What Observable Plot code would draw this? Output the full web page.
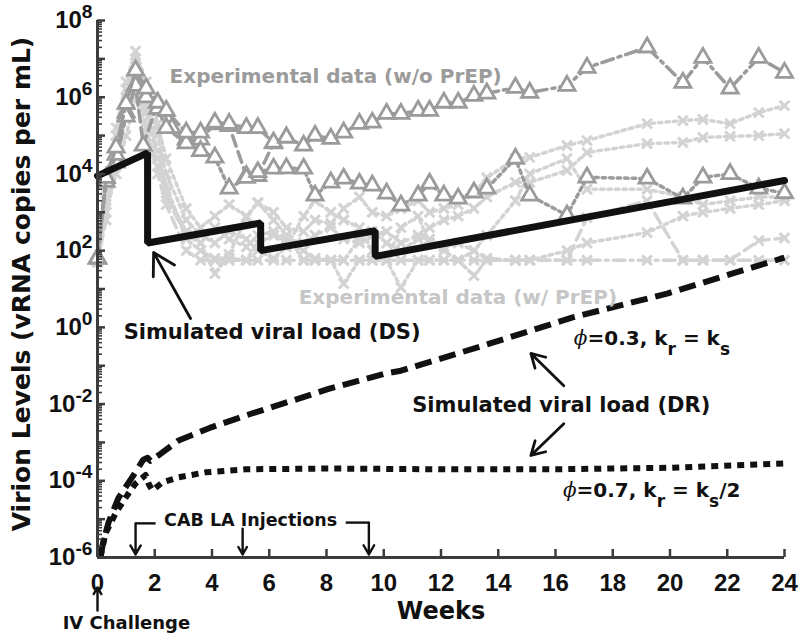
<!DOCTYPE html>
<html>
<head>
<meta charset="utf-8">
<script src="https://cdn.jsdelivr.net/npm/d3@7"></script>
<script src="https://cdn.jsdelivr.net/npm/@observablehq/plot@0.6"></script>
<style>
  html, body { margin: 0; padding: 0; background: #fff; }
  svg { display: block; }
</style>
</head>
<body>
<div id="chart"></div>
<script>
// ---------- data (exponents are log10 copies/mL) ----------
const sampleWeeks = [0, 0.3, 0.65, 1.0, 1.33, 1.7, 2.1, 2.4, 3.1, 3.6, 4.1, 4.6, 5.2, 5.6, 6.15, 6.6, 7.2, 7.6, 8.15, 8.6,
  9.15, 9.6, 10.1, 10.6, 11.2, 11.6, 12.1, 12.6, 13.15, 13.6, 14.6, 15.1, 16.4, 17.1, 19.2, 20.45, 21.15, 22.1, 23.1, 24];

// experimental data without PrEP (triangles)
const noPrep1 = [1.8, 3.9, 4.69, 5.83, 6.7, 6.23, 5.86, 5.65, 5.08, 5.08, 5.34, 5.31, 5.2, 5.2, 4.82, 4.95, 4.74, 5.0, 4.92, 5.08,
  5.31, 5.34, 5.57, 5.57, 5.65, 5.65, 5.86, 5.86, 6.04, 6.1, 6.25, 6.12, 6.3, 6.77, 7.3, 6.38, 7.03, 6.23, 7.03, 6.64];
const noPrep2 = [1.8, 3.8, 4.5, 5.5, 6.3, 6.0, 5.7, 5.2, 4.8, 4.6, 4.43, 3.62, 3.9, 4.05, 4.14, 4.15, 4.14, 3.44, 3.78, 3.88,
  3.75, 3.7, 3.49, 3.18, 3.44, 3.75, 3.44, 3.36, 3.52, 3.62, 4.4, 3.44, 2.92, 3.91, 3.88, 3.36, 3.91, 4.0, 3.62, 3.5];
const noPrep3Weeks = [0, 0.3, 0.65, 1.0, 1.33, 1.6, 2.1, 2.6, 3.1, 3.6, 4.1, 4.6, 5.2, 5.6, 6.15, 6.6];
const noPrep3 = [1.8, 3.9, 4.3, 5.6, 6.3, 4.74, 5.85, 5.2, 4.9, 4.9, 5.3, 5.25, 3.95, 3.95, 4.8, 4.95];

// experimental data with PrEP (crosses)
const prep1 = [1.7, 3.6, 5.2, 6.4, 7.2, 6.4, 5.3, 4.4, 3.1, 2.6, 2.9, 3.2, 2.9, 3.25, 3.0, 2.6, 2.5, 2.8, 2.7, 3.1,
  3.4, 3.0, 2.9, 3.1, 3.3, 3.0, 3.1, 3.2, 3.5, 3.9, 4.4, 4.43, 4.74, 4.87, 5.31, 5.39, 5.42, 5.31, 5.6, 5.78];
const prep2 = [1.7, 3.2, 4.8, 6.0, 7.0, 5.8, 4.6, 3.7, 2.3, 2.0, 1.8, 1.8, 1.75, 2.2, 2.4, 2.2, 2.0, 1.8, 1.75, 1.75,
  2.3, 2.5, 2.2, 2.0, 2.3, 2.6, 2.8, 2.9, 3.1, 3.4, 3.78, 3.78, 4.09, 4.56, 4.79, 4.82, 4.95, 4.98, 5.0, 5.05];
const prep3 = [1.7, 2.8, 4.5, 5.5, 6.6, 5.2, 4.0, 3.2, 2.0, 1.75, 1.75, 1.75, 1.75, 1.75, 1.75, 1.75, 1.75, 1.75, 1.75, 1.75,
  1.75, 1.75, 1.75, 1.75, 1.75, 1.75, 1.75, 1.75, 1.75, 1.75, 1.75, 1.75, 1.75, 2.86, 3.3, 1.75, 1.75, 1.75, 2.26, 2.33];
const prep4 = [1.7, 3.0, 4.0, 5.0, 6.0, 5.0, 4.2, 3.5, 2.5, 2.2, 1.4, 1.9, 2.86, 3.25, 2.8, 2.4, 1.75, 1.75, 1.75, 1.14,
  1.75, 1.75, 1.75, 1.04, 1.75, 1.75, 1.75, 1.75, 1.35, 1.75, 1.75, 1.75, 2.0, 2.2, 2.47, 2.9, 3.0, 3.1, 3.2, 3.3];
const prep5 = [1.7, 3.3, 4.8, 5.8, 6.8, 5.6, 4.4, 3.4, 2.4, 2.2, 2.6, 2.3, 2.1, 2.4, 2.5, 2.3, 2.2, 2.4, 2.6, 2.3,
  2.2, 2.4, 2.5, 2.2, 2.4, 2.3, 2.1, 2.2, 2.0, 1.8, 1.75, 1.75, 1.75, 1.75, 1.75, 1.75, 1.75, 1.75, 1.75, 1.75];
const prep6 = [1.7, 3.5, 5.0, 6.2, 6.9, 6.0, 5.0, 4.0, 2.8, 2.4, 2.2, 2.5, 2.3, 2.0, 1.8, 2.1, 2.9, 3.3, 3.0, 2.8,
  2.6, 2.0, 1.75, 2.6, 2.9, 2.2, 2.0, 1.75, 2.0, 2.4, 3.3, 4.0, 4.4, 3.6, 3.6, 3.4, 3.2, 3.3, 3.4, 3.4];

// simulated viral load, drug-sensitive (DS)
const dsWeeks = [0, 1.75, 1.75, 5.7, 5.7, 9.7, 9.7, 24];
const dsExp = [3.95, 4.55, 2.2, 2.72, 2.0, 2.52, 1.85, 3.83];
// simulated viral load, drug-resistant (DR), phi=0.3
const dr1Weeks = [0.1, 0.2, 0.38, 0.73, 1.22, 1.6, 1.75, 1.85, 2.2, 2.83, 4.0, 5.17, 6.47, 8.1, 10.07, 10.6, 13.5, 16.6, 19.9, 24];
const dr1Exp = [-6, -5.6, -5.1, -4.45, -3.9, -3.45, -3.4, -3.48, -3.3, -2.95, -2.6, -2.3, -1.99, -1.6, -1.2, -1.13, -0.47, 0.26, 0.88, 1.82];
// DR, phi=0.7
const dr2Weeks = [0.1, 0.28, 0.63, 0.98, 1.33, 1.68, 1.8, 1.92, 2.27, 2.83, 3.78, 5.17, 8.1, 12, 16, 20, 24];
const dr2Exp = [-6, -5.37, -4.85, -4.44, -4.07, -3.85, -4.1, -4.25, -4.04, -3.91, -3.78, -3.7, -3.68, -3.7, -3.7, -3.66, -3.55];

// axis ticks
const xTicks = d3.range(0, 25, 2);
const yLabelExps = [-6, -4, -2, 0, 2, 4, 6, 8];
const yDecades = d3.range(-6, 9);

// annotations (week, log10 value)
const noteText = ["Experimental data (w/o PrEP)", "Experimental data (w/ PrEP)", "Simulated viral load (DS)",
  "Simulated viral load (DR)", "CAB LA Injections", "IV Challenge"];
const noteWeek = [8.32, 12.59, 6.1, 16.2, 5.35, 1.01];
const noteExp = [6.54, 0.78, -0.13, -2.04, -5.04, -7.72];
const phiText = ["ϕ=0.3, k_{r} = k_{s}", "ϕ=0.7, k_{r} = k_{s}/2"];
const phiWeek = [16.64, 16.26];
const phiExp = [-0.29, -4.25];
// arrows: [week1, exp1, week2, exp2]
const pointerArrows = [[3.25, 0.23, 1.96, 1.95], [16.29, -1.52, 15.14, -0.68], [16.29, -2.51, 15.14, -3.34]];
const injectionWeeks = [1.33, 5.07, 9.48];
const injectionTop = [-5.11, -5.25, -5.09];
const injectionTip = -5.92;
const bracketSegs = [[2.03, 1.33, -5.11], [8.67, 9.48, -5.09]];
const challengeArrow = [0, -7.38, 0, -6.78];

// ---------- build tables ----------
const toRows = (ws, es) => ws.map((w, i) => ({w, v: Math.pow(10, es[i])}));
const lightColor = "#d3d3d3";
const grayColor = "#9b9b9b";
const axisColor = "#3c3c3c";
const dotted = "3.5,4";
const dashed = "11,6";
const dashDot = "12,5,3,5";

const prepSeries = [
  {rows: toRows(sampleWeeks, prep1), dash: dotted},
  {rows: toRows(sampleWeeks, prep2), dash: dotted},
  {rows: toRows(sampleWeeks, prep3), dash: dashed},
  {rows: toRows(sampleWeeks, prep4), dash: dotted},
  {rows: toRows(sampleWeeks, prep5), dash: dashDot},
  {rows: toRows(sampleWeeks, prep6), dash: dotted}
];
const noPrepSeries = [
  {rows: toRows(noPrep3Weeks, noPrep3), dash: dashed},
  {rows: toRows(sampleWeeks, noPrep2), dash: dotted},
  {rows: toRows(sampleWeeks, noPrep1), dash: dashDot}
];
const dsRows = toRows(dsWeeks, dsExp);
const dr1Rows = toRows(dr1Weeks, dr1Exp);
const dr2Rows = toRows(dr2Weeks, dr2Exp);

const minorTicks = [];
for (const k of yDecades.slice(0, -1)) for (let m = 2; m <= 9; m++) minorTicks.push(m * Math.pow(10, k));
const majorTicks = yDecades.map(k => Math.pow(10, k));

const notes = noteText.map((t, i) => ({t, w: noteWeek[i], v: Math.pow(10, noteExp[i])}));
const phis = phiText.map((t, i) => ({t, w: phiWeek[i], v: Math.pow(10, phiExp[i])}));
const arrowRows = pointerArrows.map(a => ({x1: a[0], y1: 10 ** a[1], x2: a[2], y2: 10 ** a[3]}));
const injRows = injectionWeeks.map((w, i) => ({x1: w, y1: 10 ** injectionTop[i], x2: w, y2: 10 ** injectionTip}));
const bracketRows = bracketSegs.map(b => ({x1: b[0], x2: b[1], y1: 10 ** b[2], y2: 10 ** b[2]}));
const ivRows = [{x1: challengeArrow[0], y1: 10 ** challengeArrow[1], x2: challengeArrow[2], y2: 10 ** challengeArrow[3]}];

const W = 800, H = 638, mL = 97, mR = 16, mT = 20, mB = 81;
const plotW = W - mL - mR, plotH = H - mT - mB;
const annFont = "DejaVu Sans, Liberation Sans, sans-serif";

const marks = [];
// light series (with PrEP)
for (const s of prepSeries) {
  marks.push(Plot.line(s.rows, {x: "w", y: "v", stroke: lightColor, strokeWidth: 3.5, strokeDasharray: s.dash}));
}
for (const s of prepSeries) {
  marks.push(Plot.dot(s.rows, {x: "w", y: "v", symbol: "times", r: 4.5, stroke: lightColor, strokeWidth: 3}));
}
// gray series (without PrEP)
for (const s of noPrepSeries) {
  marks.push(Plot.line(s.rows, {x: "w", y: "v", stroke: grayColor, strokeWidth: 3.5, strokeDasharray: s.dash}));
  marks.push(Plot.dot(s.rows, {x: "w", y: "v", symbol: "triangle", r: 6, stroke: grayColor, fill: "white", strokeWidth: 2.8}));
}
// simulations
marks.push(Plot.line(dr2Rows, {x: "w", y: "v", stroke: "#111", strokeWidth: 6, strokeDasharray: "7,6", strokeLinecap: "butt"}));
marks.push(Plot.line(dr1Rows, {x: "w", y: "v", stroke: "#111", strokeWidth: 6, strokeDasharray: "17,8", strokeLinecap: "butt"}));
marks.push(Plot.line(dsRows, {x: "w", y: "v", stroke: "#111", strokeWidth: 7, strokeLinejoin: "miter"}));

// axes
marks.push(Plot.ruleX([0], {stroke: axisColor, strokeWidth: 3}));
marks.push(Plot.ruleY([1e-6], {stroke: axisColor, strokeWidth: 3}));
marks.push(Plot.tickY(minorTicks, {y: d => d, stroke: axisColor, strokeWidth: 1.6, insetRight: plotW - 5}));
marks.push(Plot.tickY(majorTicks, {y: d => d, stroke: axisColor, strokeWidth: 2.5, insetRight: plotW - 8}));
marks.push(Plot.tickX(xTicks, {x: d => d, stroke: axisColor, strokeWidth: 2.5, insetTop: plotH - 8}));
marks.push(Plot.axisX({ticks: xTicks, tickSize: 0, tickPadding: 16, fontSize: 24, fill: "#111", label: null, tickFormat: d => String(d)}));
marks.push(Plot.axisY({ticks: yLabelExps.map(k => 10 ** k), tickSize: 0, tickPadding: 5, fontSize: 24, fill: "#111", label: null,
  tickFormat: d => `10^{${Math.round(Math.log10(d))}}`}));

// annotation arrows
marks.push(Plot.arrow(arrowRows, {x1: "x1", y1: "y1", x2: "x2", y2: "y2", stroke: "#111", strokeWidth: 2.8, headLength: 13}));
marks.push(Plot.arrow(injRows, {x1: "x1", y1: "y1", x2: "x2", y2: "y2", stroke: "#111", strokeWidth: 2.4, headLength: 11}));
marks.push(Plot.link(bracketRows, {x1: "x1", y1: "y1", x2: "x2", y2: "y2", stroke: "#111", strokeWidth: 2.4}));
marks.push(Plot.arrow(ivRows, {x1: "x1", y1: "y1", x2: "x2", y2: "y2", stroke: "#111", strokeWidth: 2.4, headLength: 9}));

// annotation text
const noteStyle = [
  {fill: grayColor, fontSize: 20},
  {fill: "#c6c6c6", fontSize: 20},
  {fill: "#111", fontSize: 21},
  {fill: "#111", fontSize: 21},
  {fill: "#111", fontSize: 17.5},
  {fill: "#111", fontSize: 18}
];
notes.forEach((n, i) => {
  marks.push(Plot.text([n], {x: "w", y: "v", text: "t", fontFamily: annFont, fontWeight: "bold", ...noteStyle[i]}));
});
marks.push(Plot.text(phis, {x: "w", y: "v", text: "t", textAnchor: "start", fill: "#111", fontSize: 20, fontFamily: annFont, fontWeight: "bold"}));

// axis titles
marks.push(Plot.text(["Weeks"], {frameAnchor: "bottom", dy: 61, text: d => d, fontSize: 24, fill: "#111", fontFamily: annFont, fontWeight: "bold"}));
marks.push(Plot.text(["Virion Levels (vRNA copies per mL)"], {frameAnchor: "left", textAnchor: "middle", lineAnchor: "middle", rotate: -90, dx: -76, dy: -5, text: d => d, fontSize: 25, fill: "#111", fontFamily: annFont, fontWeight: "bold"}));

const chart = Plot.plot({
  width: W, height: H,
  marginLeft: mL, marginRight: mR, marginTop: mT, marginBottom: mB,
  x: {domain: [0, 24]},
  y: {type: "log", domain: [1e-6, 1e8]},
  style: {fontFamily: "Liberation Sans, Arial, sans-serif", fontWeight: "bold", background: "white", overflow: "visible"},
  marks
});
document.getElementById("chart").appendChild(chart);

// rich text: superscripts ^{..}, subscripts _{..}, italic phi
(function richify(svg) {
  const ns = "http://www.w3.org/2000/svg";
  svg.querySelectorAll("text").forEach(el => {
    if (el.children.length) return;
    const s = el.textContent;
    if (!/[\^_ϕ]/.test(s)) return;
    const fs = parseFloat(getComputedStyle(el).fontSize) || 20;
    el.textContent = "";
    let off = 0;
    s.split(/(\^\{[^}]*\}|_\{[^}]*\}|ϕ)/).filter(p => p !== "").forEach(p => {
      const t = document.createElementNS(ns, "tspan");
      let target = 0, txt = p;
      if (p.startsWith("^{")) { target = -0.42 * fs; txt = p.slice(2, -1); t.setAttribute("font-size", 0.8 * fs); }
      else if (p.startsWith("_{")) { target = 0.5 * fs; txt = p.slice(2, -1); t.setAttribute("font-size", 0.85 * fs); }
      else if (p === "ϕ") { t.setAttribute("font-style", "italic"); t.setAttribute("font-family", "DejaVu Serif, serif"); t.setAttribute("font-weight", "normal"); }
      if (target !== off) { t.setAttribute("dy", target - off); off = target; }
      t.textContent = txt;
      el.appendChild(t);
    });
  });
})(chart);
</script>
</body>
</html>
